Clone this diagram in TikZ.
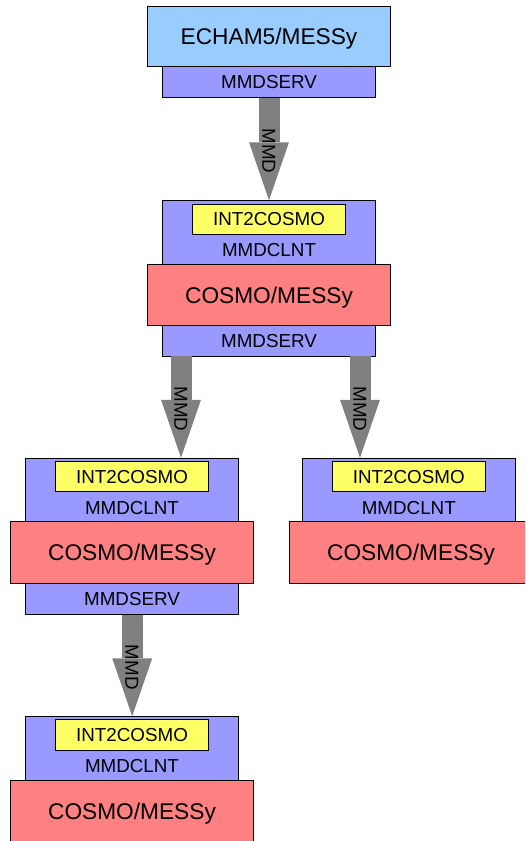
\documentclass[tikz,border=0pt]{standalone}
\usepackage{fontspec}
\setmainfont{Liberation Sans}
\usetikzlibrary{arrows.meta}
\definecolor{echamblue}{HTML}{99CCFF}
\definecolor{mmdpurple}{HTML}{9999FF}
\definecolor{intyellow}{HTML}{FFFF66}
\definecolor{cosmored}{HTML}{FF8080}
\definecolor{flowgray}{HTML}{808080}
\tikzset{
  box/.style={draw=black, line width=0.9pt, inner sep=0pt, text depth=0pt},
  bigtext/.style={font=\fontsize{22.7}{24}\selectfont, text height=16.25pt, text depth=0pt},
  smalltext/.style={font=\fontsize{18.8}{20}\selectfont, text height=13.46pt, text depth=0pt},
  model/.style={box, bigtext, minimum width=243pt, minimum height=61.5pt},
  echam/.style={model, fill=echamblue, minimum height=60pt},
  cosmo/.style={model, fill=cosmored},
  serv/.style={box, smalltext, fill=mmdpurple, minimum width=212.6pt, minimum height=30.5pt},
  clnt/.style={box, fill=mmdpurple, minimum width=212.6pt, minimum height=63.4pt},
  interp/.style={box, smalltext, fill=intyellow, minimum width=152.3pt, minimum height=30.3pt},
  lbl/.style={smalltext, inner sep=0pt},
  flow/.style={draw=flowgray, line width=21pt,
    -{Triangle[width=40pt, length=58pt, line width=0pt]}},
  flowlbl/.style={smalltext, pos=0.52, rotate=-90, inner sep=0pt}
}
\begin{document}
\begin{tikzpicture}[x=1pt, y=-1pt]
\useasboundingbox (0,0) rectangle (525,841);
\clip (0,0) rectangle (525,841);

% global model with its server
\node[echam] (echam) at (269,36.7) {ECHAM5/MESSy};
\node[serv] (serv1) at (269,82) {MMDSERV};

% first regional instance
\node[clnt] (clnt2) at (269,232.4) {};
\node[interp] (int2) at (269,219.2) {INT2COSMO};
\node[lbl] (clnt2lbl) at ([yshift=14.3pt]clnt2.south) {MMDCLNT};
\node[cosmo] (cosmo2) at (269,295) {COSMO/MESSy};
\node[serv] (serv2) at (269,340.7) {MMDSERV};

% nested instance, left branch
\node[clnt] (clnt3l) at (132,489.9) {};
\node[interp] (int3l) at (132,476.7) {INT2COSMO};
\node[lbl] (clnt3llbl) at ([yshift=14.3pt]clnt3l.south) {MMDCLNT};
\node[cosmo] (cosmo3l) at (132,552.6) {COSMO/MESSy};
\node[serv] (serv3l) at (132,598.8) {MMDSERV};

% nested instance, right branch
\node[clnt] (clnt3r) at (408.8,489.9) {};
\node[interp] (int3r) at (408.8,476.7) {INT2COSMO};
\node[lbl] (clnt3rlbl) at ([yshift=14.3pt]clnt3r.south) {MMDCLNT};
\node[cosmo] (cosmo3r) at (411,552.6) {COSMO/MESSy};

% innermost instance
\node[clnt] (clnt4) at (132,748.4) {};
\node[interp] (int4) at (132,734.8) {INT2COSMO};
\node[lbl] (clnt4lbl) at ([yshift=14.3pt]clnt4.south) {MMDCLNT};
\node[cosmo] (cosmo4) at (132,811) {COSMO/MESSy};

% MMD data flow between server and clients
\draw[flow] (serv1.south) -- (clnt2.north) node[flowlbl] (mmd1) {MMD};
\draw[flow] ([xshift=-88pt]serv2.south) -- ([xshift=49pt]clnt3l.north) node[flowlbl] (mmd2) {MMD};
\draw[flow] ([xshift=91pt]serv2.south) -- ([xshift=-48.8pt]clnt3r.north) node[flowlbl] (mmd3) {MMD};
\draw[flow] ([xshift=0.2pt]serv3l.south) -- ([xshift=0.2pt]clnt4.north) node[flowlbl] (mmd4) {MMD};
\end{tikzpicture}
\end{document}
